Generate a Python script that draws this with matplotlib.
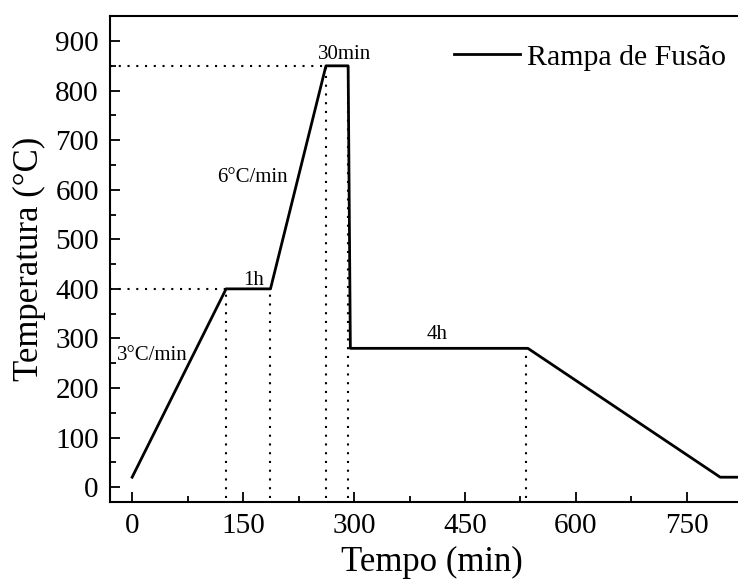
import matplotlib.pyplot as plt

plt.rcParams['font.family'] = ['Liberation Serif', 'DejaVu Serif']

# heating / cooling schedule (min, °C)
tempo = [0, 127, 187, 262, 292, 295, 535, 795, 850]
temperatura = [20, 400, 400, 850, 850, 280, 280, 20, 20]

# guide lines marking the stage limits
marcas_x = [127, 187, 262, 292, 533]
marcas_y = [400, 400, 850, 850, 280]
patamares_y = [400, 850]
patamares_x = [127, 262]

# stage annotations
rotulos = ['3°C/min', '1h', '6°C/min', '30min', '4h']
rotulos_x = [27, 164, 162, 287, 412]
rotulos_y = [265, 416, 624, 872, 307]

fig = plt.figure(figsize=(7.38, 5.81), dpi=100)
ax = fig.add_axes([0.149, 0.136, 0.872, 0.836])

# dotted guides
for x, y in zip(marcas_x, marcas_y):
    ax.plot([x, x], [-22, y], color='black', lw=1.5, linestyle=(0, (1, 3.2)))
for x, y in zip(patamares_x, patamares_y):
    ax.plot([-30, x], [y, y], color='black', lw=1.5, linestyle=(0, (1, 3.2)))

ax.plot(tempo, temperatura, color='black', lw=2, label='Rampa de Fusão')

for t, x, y in zip(rotulos, rotulos_x, rotulos_y):
    ax.text(x, y, t, ha='center', va='center', fontsize=15)

ax.set_xlim(-30, 840)
ax.set_ylim(-30, 950)
ax.set_xticks([0, 150, 300, 450, 600, 750])
ax.set_xticks([75, 225, 375, 525, 675], minor=True)
ax.set_yticks(range(0, 901, 100))
ax.set_yticks(range(50, 901, 100), minor=True)
ax.tick_params(which='both', direction='in', labelsize=21, width=1.3, pad=8)
ax.tick_params(which='major', length=7)
ax.tick_params(which='minor', length=4)
for s in ax.spines.values():
    s.set_linewidth(1.5)

ax.set_xlabel('Tempo (min)', fontsize=25, labelpad=5)
ax.set_ylabel('Temperatura (°C)', fontsize=25, labelpad=7)

ax.legend(loc='upper right', bbox_to_anchor=(1.0, 0.945), bbox_transform=fig.transFigure,
          frameon=False, fontsize=21.5, handlelength=2.2, handletextpad=0.25,
          borderaxespad=0, borderpad=0.4)

plt.savefig('out.png', dpi=100)
